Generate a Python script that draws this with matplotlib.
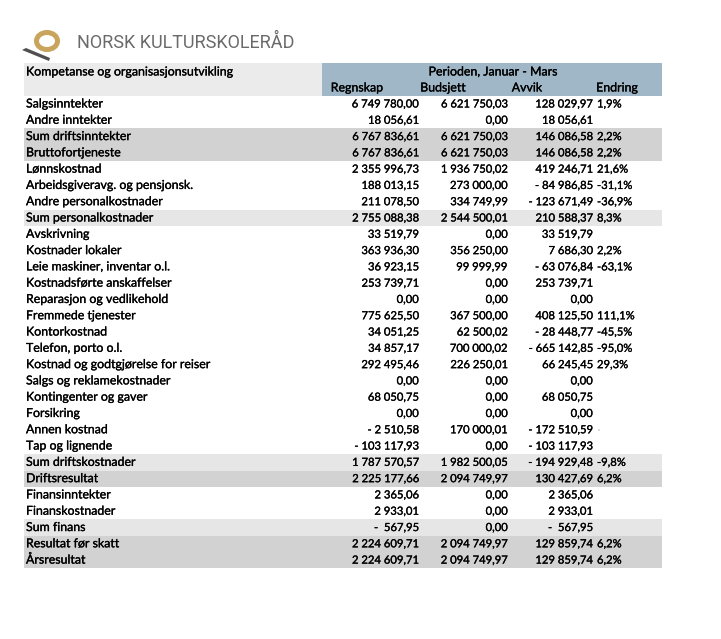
import matplotlib
matplotlib.use("Agg")
import matplotlib.pyplot as plt
import matplotlib.patheffects as pe
from matplotlib.patches import Rectangle, Ellipse, Polygon

# ---------------- data ----------------
labels = [
    "Salgsinntekter", "Andre inntekter", "Sum driftsinntekter", "Bruttofortjeneste",
    "Lønnskostnad", "Arbeidsgiveravg. og pensjonsk.", "Andre personalkostnader",
    "Sum personalkostnader", "Avskrivning", "Kostnader lokaler",
    "Leie maskiner, inventar o.l.", "Kostnadsførte anskaffelser",
    "Reparasjon og vedlikehold", "Fremmede tjenester", "Kontorkostnad",
    "Telefon, porto o.l.", "Kostnad og godtgjørelse for reiser",
    "Salgs og reklamekostnader", "Kontingenter og gaver", "Forsikring",
    "Annen kostnad", "Tap og lignende", "Sum driftskostnader", "Driftsresultat",
    "Finansinntekter", "Finanskostnader", "Sum finans", "Resultat før skatt",
    "Årsresultat",
]
regnskap = [
    6749780.00, 18056.61, 6767836.61, 6767836.61, 2355996.73, 188013.15,
    211078.50, 2755088.38, 33519.79, 363936.30, 36923.15, 253739.71, 0.00,
    775625.50, 34051.25, 34857.17, 292495.46, 0.00, 68050.75, 0.00,
    -2510.58, -103117.93, 1787570.57, 2225177.66, 2365.06, 2933.01, -567.95,
    2224609.71, 2224609.71,
]
budsjett = [
    6621750.03, 0.00, 6621750.03, 6621750.03, 1936750.02, 273000.00,
    334749.99, 2544500.01, 0.00, 356250.00, 99999.99, 0.00, 0.00,
    367500.00, 62500.02, 700000.02, 226250.01, 0.00, 0.00, 0.00,
    170000.01, 0.00, 1982500.05, 2094749.97, 0.00, 0.00, 0.00,
    2094749.97, 2094749.97,
]
avvik = [
    128029.97, 18056.61, 146086.58, 146086.58, 419246.71, -84986.85,
    -123671.49, 210588.37, 33519.79, 7686.30, -63076.84, 253739.71, 0.00,
    408125.50, -28448.77, -665142.85, 66245.45, 0.00, 68050.75, 0.00,
    -172510.59, -103117.93, -194929.48, 130427.69, 2365.06, 2933.01, -567.95,
    129859.74, 129859.74,
]
endring = [
    1.9, None, 2.2, 2.2, 21.6, -31.1, -36.9, 8.3, None, 2.2, -63.1, None, None,
    111.1, -45.5, -95.0, 29.3, None, None, None, "-", None, -9.8, 6.2,
    None, None, None, 6.2, 6.2,
]
# row shading: 0 none, 1 light, 2 dark
shade = [0, 0, 2, 2, 0, 0, 0, 1, 0, 0, 0, 0, 0, 0, 0, 0, 0, 0, 0, 0,
         0, 0, 1, 2, 0, 0, 1, 2, 2]

title = "NORSK KULTURSKOLERÅD"
section = "Kompetanse og organisasjonsutvikling"
period = "Perioden, Januar - Mars"
col_heads = ["Regnskap", "Budsjett", "Avvik", "Endring"]


def fmt(v):
    neg = v < 0
    a = abs(v)
    whole = int(round(a * 100)) // 100
    cents = int(round(a * 100)) % 100
    s = f"{whole:,}".replace(",", " ") + f",{cents:02d}"
    if neg:
        return ("-  " if a < 1000 else "- ") + s
    return s


def fmt_pct(p):
    if p is None:
        return ""
    if isinstance(p, str):
        return p
    return f"{p:.1f}%".replace(".", ",")


# ---------------- figure ----------------
W, H = 721, 639
fig = plt.figure(figsize=(W / 100, H / 100), dpi=100)
ax = fig.add_axes([0, 0, 1, 1])
ax.set_xlim(0, W)
ax.set_ylim(H, 0)
ax.axis("off")

FONT = ["Lato", "DejaVu Sans"]
FS = 8.9
FSN = 8.1
PE = [pe.withStroke(linewidth=0.2, foreground="black")]


def txt(x, y, s, size, ha):
    ax.text(x, y, s, fontsize=size, va="center", ha=ha, family=FONT,
            color="black", path_effects=PE)


# logo
swoosh = Polygon([(22, 50), (26, 48), (50, 58), (49, 61)], closed=True,
                 facecolor="#4f4f4f", edgecolor="none")
ax.add_patch(swoosh)
ax.add_patch(Ellipse((47, 41), 21, 17, facecolor="none",
                     edgecolor="#c9a45c", linewidth=3.6))
ax.text(77, 43, title, fontsize=13, color="#6a6a6a", va="center", ha="left",
        family=["Roboto", "DejaVu Sans"])

# header band
x0, xs, x1 = 24, 322, 662
ax.add_patch(Rectangle((x0, 63), xs - x0, 33, facecolor="#ebebeb", edgecolor="none"))
ax.add_patch(Rectangle((xs, 63), x1 - xs, 33, facecolor="#9fb7c6", edgecolor="none"))
txt(26, 72, section, FS, "left")
txt(493, 72, period, FS, "center")
for cx, h in zip([357, 443, 527, 617], col_heads):
    txt(cx, 88, h, FS, "center")

# rows
y_first, dy = 104, 16.29
shade_col = {1: "#e6e6e6", 2: "#d2d2d2"}
for i, lab in enumerate(labels):
    y = y_first + i * dy
    if shade[i]:
        ax.add_patch(Rectangle((x0, y - dy / 2), x1 - x0, dy,
                               facecolor=shade_col[shade[i]], edgecolor="none"))
    txt(26, y, lab, FS, "left")
    txt(419, y, fmt(regnskap[i]), FSN, "right")
    txt(508, y, fmt(budsjett[i]), FSN, "right")
    txt(593, y, fmt(avvik[i]), FSN, "right")
    txt(597, y, fmt_pct(endring[i]), FSN, "left")

fig.savefig("out.png", dpi=100)
